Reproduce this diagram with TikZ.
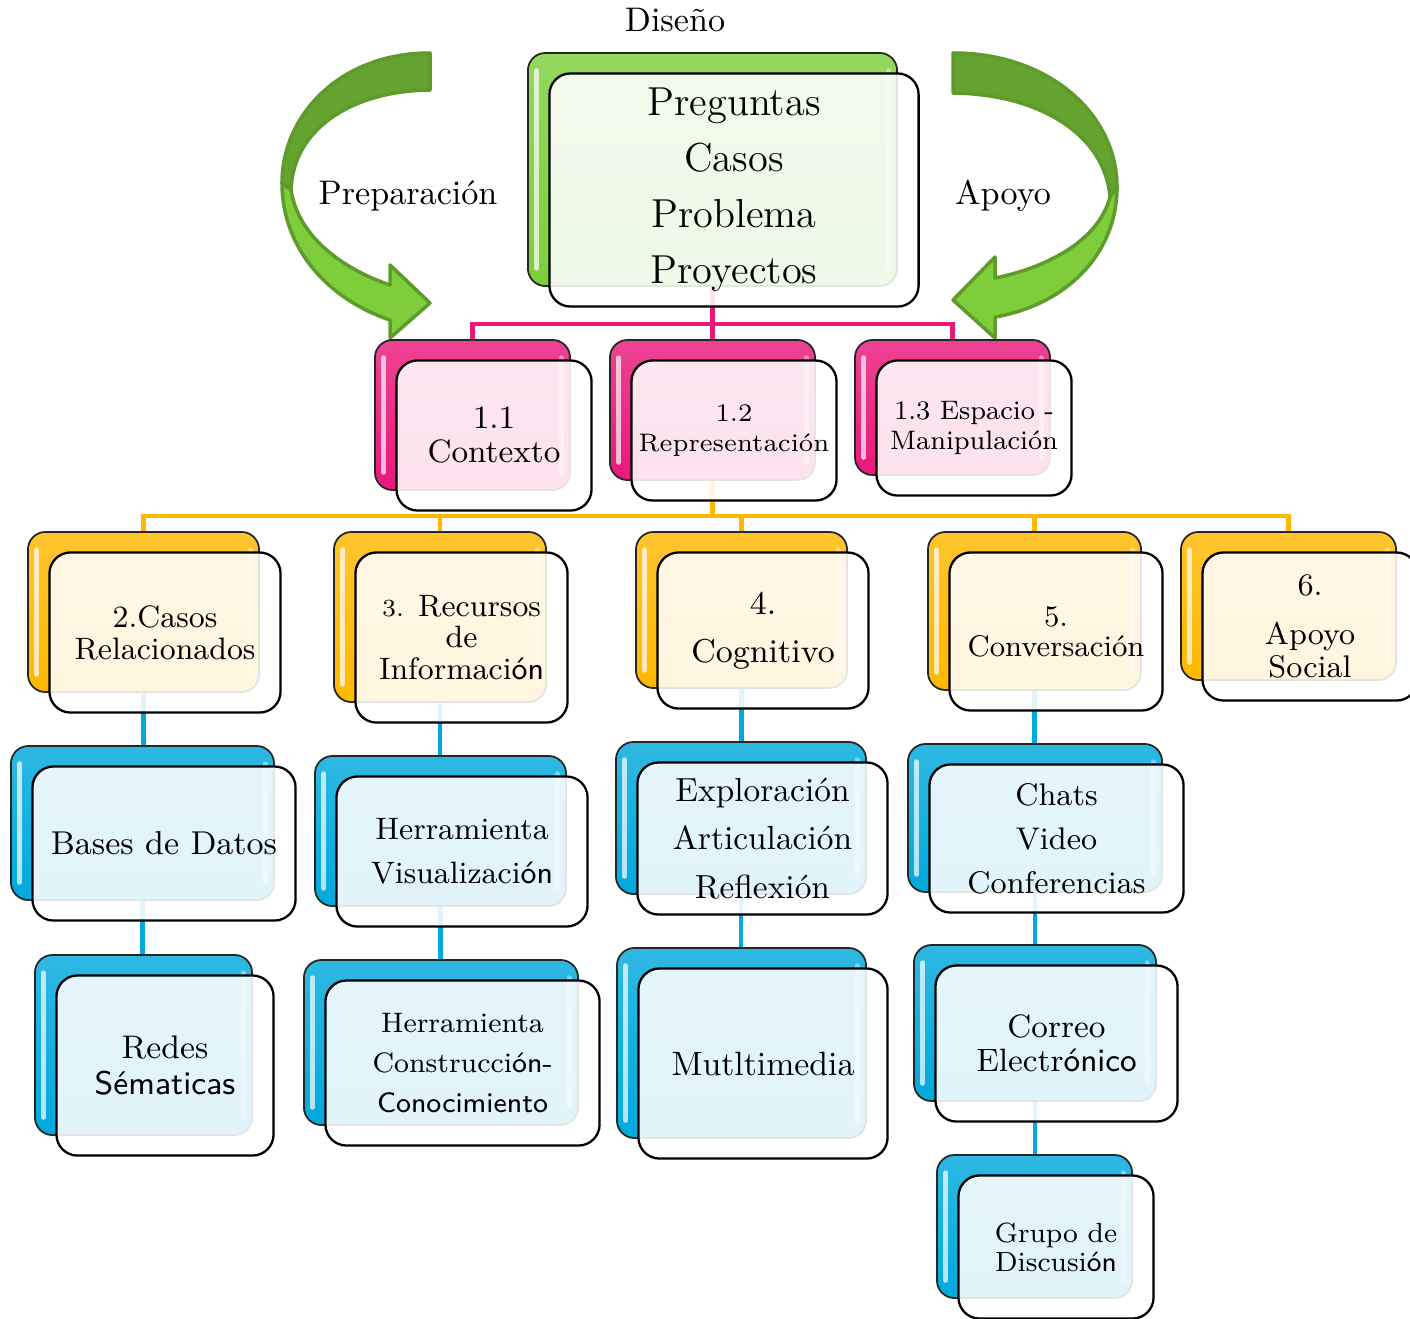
\documentclass[tikz,border=0pt]{standalone}
\usepackage{fontspec}
\usetikzlibrary{backgrounds}
\definecolor{verde}{RGB}{125,206,58}
\definecolor{verdeosc}{RGB}{100,163,47}
\definecolor{verdeborde}{RGB}{94,155,43}
\definecolor{rosa}{RGB}{232,25,122}
\definecolor{ambar}{RGB}{255,184,0}
\definecolor{azul}{RGB}{0,169,220}
\newcommand{\tam}[2]{\fontsize{#1}{#2}\selectfont}
\newcommand{\gs}[1]{{\sffamily #1}}

\begin{document}
\begin{tikzpicture}[x=0.01cm, y=-0.01cm]
    \tikzset{
      fondo/.style={rectangle, rounded corners=5pt, draw=black!85, line width=0.5pt,
        top color=#1!82!white, bottom color=#1,
        path picture={
          \draw[white, opacity=0.7, line width=1.3pt, line cap=round]
            ([xshift=2.5pt, yshift=-5pt]path picture bounding box.north west) --
            ([xshift=2.5pt, yshift=5pt]path picture bounding box.south west);
          \draw[white, opacity=0.4, line width=1.3pt, line cap=round]
            ([xshift=-2.5pt, yshift=-5pt]path picture bounding box.north east) --
            ([xshift=-2.5pt, yshift=5pt]path picture bounding box.south east);
        }},
      frente/.style={rectangle, rounded corners=6pt, draw=black, line width=0.65pt,
        fill=white, fill opacity=0.88, text opacity=1, align=center, inner sep=2pt},
      enlace/.style={line width=1.4pt, color=#1},
      flecha/.style={draw=verdeborde, line width=1pt, line join=round}
    }
    \useasboundingbox (0,0) rectangle (1410,1318);

    % Titles
    \node[font=\tam{9.7}{12}] (diseno-t) at (675,20) {Diseño};
    \node[font=\tam{9.7}{12}] (prep-t) at (408,196) {Preparación};
    \node[font=\tam{9.7}{12}] (apoyo-t) at (1003,196) {Apoyo};

    % Left curved arrow
    \filldraw[flecha, fill=verdeosc] (430,53) .. controls (340,53) and (282,115) .. (282,183)
      -- (291,190) .. controls (293,130) and (350,91) .. (430,90) -- cycle;
    \filldraw[flecha, fill=verde] (282,183) .. controls (282,250) and (330,300) .. (390,320)
      -- (390,338) -- (430,303) -- (390,265) -- (390,285)
      .. controls (340,268) and (298,235) .. (291,190) -- cycle;
    % Right curved arrow
    \filldraw[flecha, fill=verdeosc] (953,53) .. controls (1050,53) and (1117,115) .. (1117,187)
      -- (1110,197) .. controls (1105,135) and (1040,94) .. (953,93) -- cycle;
    \filldraw[flecha, fill=verde] (1117,187) .. controls (1117,255) and (1065,305) .. (995,317)
      -- (995,338) -- (953,300) -- (995,257) -- (995,278)
      .. controls (1045,268) and (1098,242) .. (1110,197) -- cycle;

    % Root
    \node[fondo=verde, minimum width=3.69cm, minimum height=2.33cm] (raiz-b) at (712.5,169.5) {};
    \node[frente, minimum width=3.69cm, minimum height=2.33cm, font=\tam{11.5}{15.9}] (raiz)
      at ([shift={(21.5,20.5)}]raiz-b) {Preguntas\\Casos\\Problema\\Proyectos};

    % Level 1
    \node[fondo=rosa, minimum width=1.95cm, minimum height=1.5cm] (ctx-b) at (472.5,415) {};
    \node[frente, minimum width=1.95cm, minimum height=1.5cm, font=\tam{9.2}{9.7}] (ctx)
      at ([shift={(21.5,20.5)}]ctx-b) {1.1\\Contexto};
    \node[fondo=rosa, minimum width=2.05cm, minimum height=1.4cm] (rep-b) at (712.5,410) {};
    \node[frente, minimum width=2.05cm, minimum height=1.4cm, font=\tam{7.2}{8.3}] (rep)
      at ([shift={(21.5,20.5)}]rep-b) {1.2\\Representación};
    \node[fondo=rosa, minimum width=1.95cm, minimum height=1.35cm] (esp-b) at (952.5,407.5) {};
    \node[frente, minimum width=1.95cm, minimum height=1.35cm, font=\tam{7.6}{8.5}] (esp)
      at ([shift={(21.5,20.5)}]esp-b) {1.3 Espacio -\\Manipulación};

    % Level 2
    \node[fondo=ambar, minimum width=2.31cm, minimum height=1.6cm] (cas-b) at (143.5,612) {};
    \node[frente, minimum width=2.31cm, minimum height=1.6cm, font=\tam{8.8}{9.1}] (cas)
      at ([shift={(21.5,20.5)}]cas-b) {2.Casos\\Relacionados};
    \node[fondo=ambar, minimum width=2.12cm, minimum height=1.7cm] (rec-b) at (440,617) {};
    \node[frente, minimum width=2.12cm, minimum height=1.7cm, font=\tam{8.8}{9}] (rec)
      at ([shift={(21.5,20.5)}]rec-b) {{\tam{7}{9}3.} Recursos\\de\\Informaci\gs{ón}};
    \node[fondo=ambar, minimum width=2.11cm, minimum height=1.56cm] (cog-b) at (741.5,610) {};
    \node[frente, minimum width=2.11cm, minimum height=1.56cm, font=\tam{9.4}{13.7}] (cog)
      at ([shift={(21.5,20.5)}]cog-b) {4.\\Cognitivo};
    \node[fondo=ambar, minimum width=2.13cm, minimum height=1.58cm] (con-b) at (1034.5,611) {};
    \node[frente, minimum width=2.13cm, minimum height=1.58cm, font=\tam{8.5}{8.5}] (con)
      at ([shift={(21.5,20.5)}]con-b) {5.\\Conversación};
    \node[fondo=ambar, minimum width=2.15cm, minimum height=1.48cm] (soc-b) at (1288.5,606) {};
    \node[frente, minimum width=2.15cm, minimum height=1.48cm, font=\tam{8.9}{9.4}] (soc)
      at ([shift={(21.5,20.5)}]soc-b) {6.\\[4.5pt]Apoyo\\Social};

    % Level 3
    \node[fondo=azul, minimum width=2.63cm, minimum height=1.54cm] (bas-b) at (142.5,823) {};
    \node[frente, minimum width=2.63cm, minimum height=1.54cm, font=\tam{9.4}{10}] (bas)
      at ([shift={(21.5,20.5)}]bas-b) {Bases de Datos};
    \node[fondo=azul, minimum width=2.17cm, minimum height=1.8cm] (red-b) at (143.5,1045) {};
    \node[frente, minimum width=2.17cm, minimum height=1.8cm, font=\tam{9.3}{10}] (red)
      at ([shift={(21.5,20.5)}]red-b) {Redes\\\gs{Sématicas}};
    \node[fondo=azul, minimum width=2.51cm, minimum height=1.5cm] (vis-b) at (440.5,831) {};
    \node[frente, minimum width=2.51cm, minimum height=1.5cm, font=\tam{8.8}{12.5}] (vis)
      at ([shift={(21.5,20.5)}]vis-b) {Herramienta\\Visualizaci\gs{ón}};
    \node[fondo=azul, minimum width=2.74cm, minimum height=1.65cm] (her-b) at (441,1042.5) {};
    \node[frente, minimum width=2.74cm, minimum height=1.65cm, font=\tam{8}{11.4}] (her)
      at ([shift={(21.5,20.5)}]her-b) {Herramienta\\Construcci\gs{ón}-\\\gs{Conocimiento}};
    \node[fondo=azul, minimum width=2.5cm, minimum height=1.52cm] (exp-b) at (741,818) {};
    \node[frente, minimum width=2.5cm, minimum height=1.52cm, font=\tam{9.5}{13.8}] (exp)
      at ([shift={(21.5,20.5)}]exp-b) {Exploración\\Articulación\\Reflexión};
    \node[fondo=azul, minimum width=2.49cm, minimum height=1.9cm] (mul-b) at (741.5,1043) {};
    \node[frente, minimum width=2.49cm, minimum height=1.9cm, font=\tam{9.6}{10}] (mul)
      at ([shift={(21.5,20.5)}]mul-b) {Mutltimedia};
    \node[fondo=azul, minimum width=2.54cm, minimum height=1.48cm] (cha-b) at (1035,818) {};
    \node[frente, minimum width=2.54cm, minimum height=1.48cm, font=\tam{8.9}{12.5}] (cha)
      at ([shift={(21.5,20.5)}]cha-b) {Chats\\Video\\Conferencias};
    \node[fondo=azul, minimum width=2.42cm, minimum height=1.56cm] (cor-b) at (1035,1023) {};
    \node[frente, minimum width=2.42cm, minimum height=1.56cm, font=\tam{9.2}{9.7}] (cor)
      at ([shift={(21.5,20.5)}]cor-b) {Correo\\Electr\gs{ónico}};
    \node[fondo=azul, minimum width=1.95cm, minimum height=1.43cm] (gru-b) at (1034.5,1226.5) {};
    \node[frente, minimum width=1.95cm, minimum height=1.43cm, font=\tam{7.9}{8.3}] (gru)
      at ([shift={(21.5,20.5)}]gru-b) {Grupo de\\Discusi\gs{ón}};

    % Connectors
    \begin{scope}[on background layer]
      \coordinate (bus1) at (712.5,324);
      \coordinate (bus2) at (712.5,516);
      \draw[enlace=rosa] (raiz-b.south) -- (bus1) -| (ctx-b.north);
      \draw[enlace=rosa] (bus1) -- (rep-b.north);
      \draw[enlace=rosa] (bus1) -| (esp-b.north);
      \draw[enlace=ambar] (rep-b.south) -- (bus2) -| (cas-b.north);
      \draw[enlace=ambar] (bus2) -| (rec-b.north);
      \draw[enlace=ambar] (bus2) -| (cog-b.north);
      \draw[enlace=ambar] (bus2) -| (con-b.north);
      \draw[enlace=ambar] (bus2) -| (soc-b.north);
      \draw[enlace=azul] (cas-b.south) -- (cas-b.south |- bas-b.north);
      \draw[enlace=azul] (bas-b.south) -- (bas-b.south |- red-b.north);
      \draw[enlace=azul] (rec-b.south) -- (rec-b.south |- vis-b.north);
      \draw[enlace=azul] (vis-b.south) -- (vis-b.south |- her-b.north);
      \draw[enlace=azul] (cog-b.south) -- (cog-b.south |- exp-b.north);
      \draw[enlace=azul] (exp-b.south) -- (exp-b.south |- mul-b.north);
      \draw[enlace=azul] (con-b.south) -- (con-b.south |- cha-b.north);
      \draw[enlace=azul] (cha-b.south) -- (cha-b.south |- cor-b.north);
      \draw[enlace=azul] (cor-b.south) -- (cor-b.south |- gru-b.north);
    \end{scope}

  \end{tikzpicture}
\end{document}
